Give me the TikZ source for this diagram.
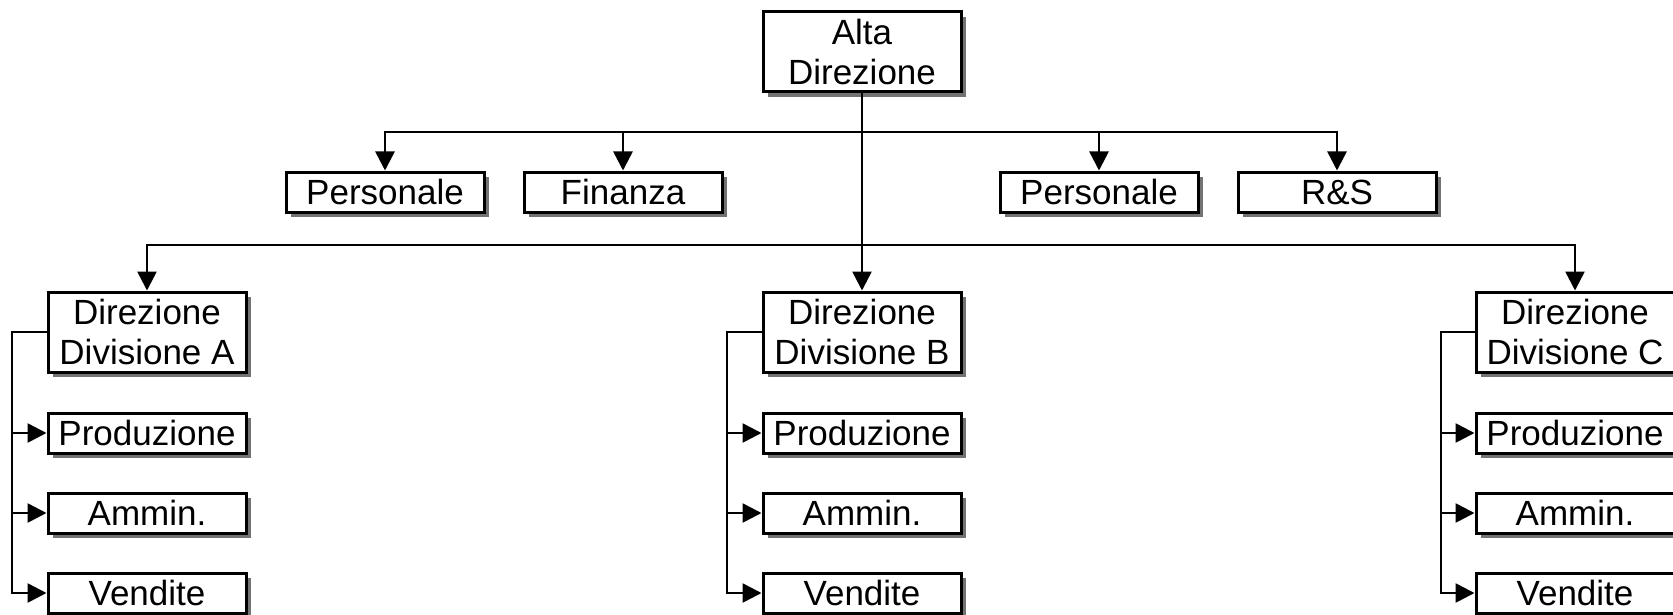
\documentclass[tikz,border=0pt]{standalone}
\usepackage{fontspec}
\setmainfont{Liberation Sans}
\usetikzlibrary{arrows.meta,shadows}
\begin{document}
\begin{tikzpicture}[x=1pt,y=-1pt,
  box/.style={draw=black, line width=3pt, fill=white, minimum width=198pt, minimum height=40pt,
    inner sep=0pt, align=center, font=\fontsize{35}{40}\selectfont,
    drop shadow={shadow xshift=5pt, shadow yshift=-5pt, fill=black!55, opacity=1, draw=none}},
  tall/.style={box, minimum height=80pt},
  conn/.style={line width=2.6pt, -{Triangle[length=19pt,width=19pt]}},
  link/.style={line width=2.6pt}]
\useasboundingbox (0,0) rectangle (1673,615);

% top
\node[tall] (alta) at (862,52) {Alta\\Direzione};

% staff
\node[box] (pers1) at (385,192) {Personale};
\node[box] (fin)   at (623,192) {Finanza};
\node[box] (pers2) at (1099,192) {Personale};
\node[box] (rs)    at (1337,192) {R\&S};

% divisions
\node[tall] (divA) at (147,332) {Direzione\\Divisione A};
\node[tall] (divB) at (862,332) {Direzione\\Divisione B};
\node[tall] (divC) at (1575,332) {Direzione\\Divisione C};

% sub units
\foreach \d/\x in {A/147,B/862,C/1575}{
  \node[box] (prod\d) at (\x,433) {Produzione};
  \node[box] (amm\d)  at (\x,513) {Ammin.};
  \node[box] (vend\d) at (\x,593) {Vendite};
}

% junctions
\coordinate (j1) at (862,132);
\coordinate (j2) at (862,245);
\coordinate (bA) at (12,332);
\coordinate (bB) at (727,332);
\coordinate (bC) at (1441,332);

% connectors
\draw[conn] (alta.south) -- (divB.north);
\draw[conn] (j1) -| (pers1.north);
\draw[conn] (j1) -| (fin.north);
\draw[conn] (j1) -| (pers2.north);
\draw[conn] (j1) -| (rs.north);
\draw[conn] (j2) -| (divA.north);
\draw[conn] (j2) -| (divC.north);

\foreach \d in {A,B,C}{
  \draw[conn] (div\d.west) -- (b\d) |- (prod\d.west);
  \draw[conn] (b\d) |- (amm\d.west);
  \draw[conn] (b\d) |- (vend\d.west);
}
\end{tikzpicture}
\end{document}
